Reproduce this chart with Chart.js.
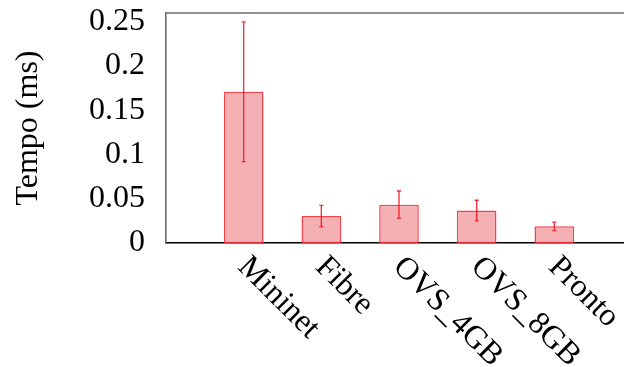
<!DOCTYPE html>
<html>
<head>
<meta charset="utf-8">
<script src="https://cdn.jsdelivr.net/npm/chart.js@4"></script>
<style>
  html, body { margin: 0; padding: 0; background: #fff; overflow: hidden; }
  #wrap { width: 624px; height: 367px; overflow: hidden; position: relative; }
  #box { width: 640px; height: 367px; position: absolute; left: 0; top: 0; }
</style>
</head>
<body>
<div id="wrap"><div id="box"><canvas id="c"></canvas></div></div>
<script>
const categories = ['Mininet', 'Fibre', 'OVS_4GB', 'OVS_8GB', 'Pronto'];
const means = [0.171, 0.0305, 0.0433, 0.0366, 0.0189];
const errors = [0.079, 0.012, 0.0155, 0.0117, 0.0048];
const yTicks = [0, 0.05, 0.1, 0.15, 0.2, 0.25];
const yTitle = 'Tempo (ms)';

const FONT = '"Liberation Serif", "DejaVu Serif", serif';

// pad with an empty slot on each side (gnuplot-like x range)
const labels = [''].concat(categories, ['']);
const data = [null].concat(means, [null]);
const errs = [null].concat(errors, [null]);

const errorBars = {
  id: 'errorBars',
  afterDatasetsDraw(chart) {
    const ctx = chart.ctx;
    const y = chart.scales.y;
    const meta = chart.getDatasetMeta(0);
    ctx.save();
    ctx.strokeStyle = 'rgba(245,20,35,0.9)';
    ctx.lineWidth = 1.3;
    meta.data.forEach((bar, i) => {
      if (data[i] == null) return;
      const x = bar.x;
      const yt = y.getPixelForValue(data[i] + errs[i]);
      const yb = y.getPixelForValue(data[i] - errs[i]);
      ctx.beginPath();
      ctx.moveTo(x, yt); ctx.lineTo(x, yb);
      ctx.moveTo(x - 2, yt); ctx.lineTo(x + 2, yt);
      ctx.moveTo(x - 2, yb); ctx.lineTo(x + 2, yb);
      ctx.stroke();
    });
    ctx.restore();
  }
};

const frameAndLabels = {
  id: 'frameAndLabels',
  afterDraw(chart) {
    const ctx = chart.ctx;
    const a = chart.chartArea;
    const xs = chart.scales.x;
    ctx.save();
    // top border
    ctx.strokeStyle = '#6e6e6e';
    ctx.lineWidth = 1.6;
    ctx.beginPath();
    ctx.moveTo(a.left, a.top); ctx.lineTo(a.right, a.top);
    ctx.stroke();
    // rotated category labels
    ctx.fillStyle = '#000';
    ctx.font = '32px ' + FONT;
    ctx.textAlign = 'left';
    ctx.textBaseline = 'alphabetic';
    labels.forEach((lab, i) => {
      if (!lab) return;
      const px = xs.getPixelForTick(i);
      ctx.save();
      ctx.translate(px - 7, a.bottom + 25);
      ctx.rotate(Math.PI / 4);
      ctx.fillText(lab, 0, 0);
      ctx.restore();
    });
    ctx.restore();
  }
};

new Chart(document.getElementById('c'), {
  type: 'bar',
  data: {
    labels: labels,
    datasets: [{
      data: data,
      backgroundColor: '#f5b0b3',
      borderColor: 'rgba(245,45,55,0.9)',
      borderWidth: 1.5,
      borderSkipped: false,
      categoryPercentage: 1,
      barPercentage: 0.51
    }]
  },
  options: {
    responsive: true,
    maintainAspectRatio: false,
    animation: false,
    events: [],
    layout: { padding: { top: 13, right: 8, bottom: 124, left: 0 } },
    plugins: { legend: { display: false }, tooltip: { enabled: false } },
    scales: {
      x: {
        offset: false,
        grid: { display: false, drawTicks: false },
        border: { display: true, color: '#000', width: 1.5 },
        ticks: { display: false },
        afterFit(s) { s.height = 0; s.paddingLeft = 0; s.paddingRight = 0; }
      },
      y: {
        min: 0,
        max: 0.26,
        afterFit(s) { s.width = 166; s.paddingTop = 0; s.paddingBottom = 0; },
        afterBuildTicks(s) { s.ticks = yTicks.map(v => ({ value: v })); },
        grid: { display: false, drawTicks: false },
        border: { display: true, color: '#6e6e6e', width: 1.6 },
        ticks: {
          padding: 21,
          color: '#000',
          font: { family: FONT, size: 32 },
          callback: v => String(+(+v).toFixed(2))
        },
        title: {
          display: true,
          text: yTitle,
          color: '#000',
          font: { family: FONT, size: 32 },
          padding: { top: 9, bottom: 0 }
        }
      }
    }
  },
  plugins: [errorBars, frameAndLabels]
});
</script>
</body>
</html>
